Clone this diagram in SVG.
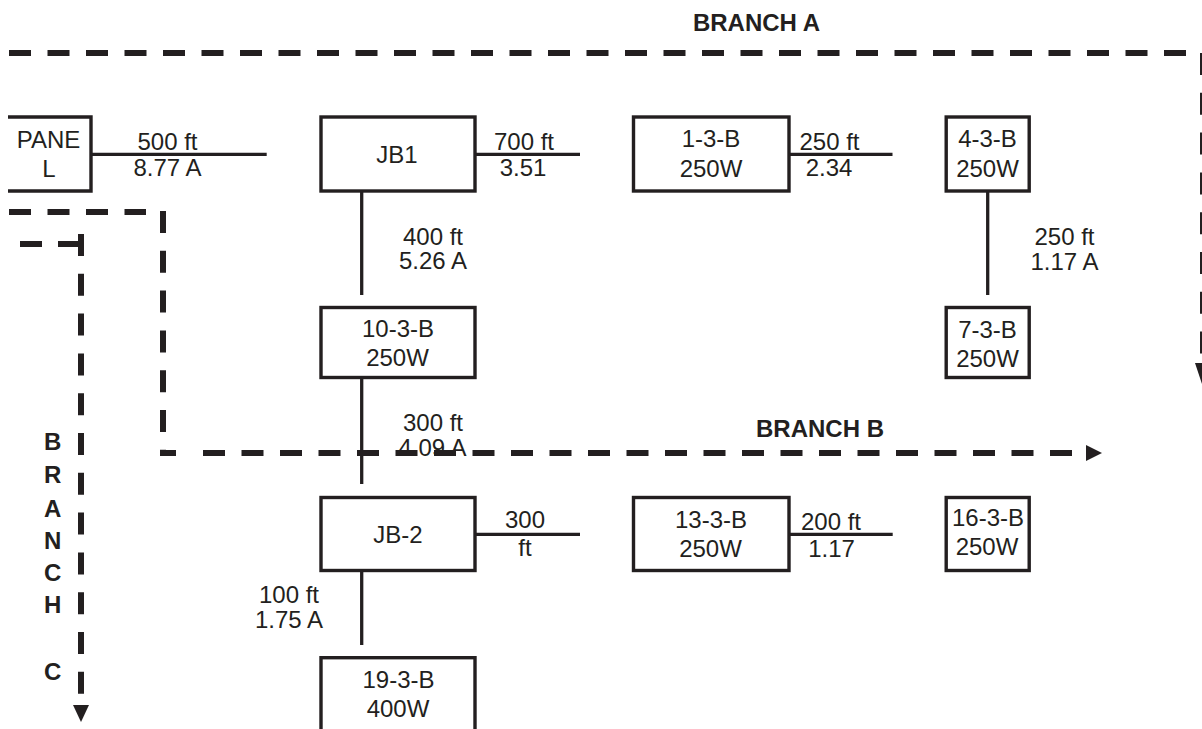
<svg xmlns="http://www.w3.org/2000/svg" width="1202" height="729" viewBox="0 0 1202 729">
<style>
  .box { fill: #ffffff; stroke: #231f20; stroke-width: 3.4; }
  .wire { fill: none; stroke: #231f20; stroke-width: 3.3; }
  .dash { fill: none; stroke: #231f20; stroke-width: 6; stroke-linejoin: miter; }
  .dh { stroke-dasharray: 22 16.5; }
  .dv { stroke-dasharray: 22 17.8; }
  .arrow { fill: #231f20; stroke: none; }
  text { font-family: "Liberation Sans", Arial, Helvetica, sans-serif; font-size: 24px; fill: #231f20; text-anchor: middle; }
  .bold { font-weight: bold; }
</style>
<rect width="1202" height="729" fill="#ffffff"/>

<g id="nodes">
  <g id="panel">
    <path class="box" d="M8,117 H91 V191 H8"/>
    <text x="48.5" y="148">PANE</text>
    <text x="49" y="177">L</text>
  </g>
  <g id="jb1">
    <rect class="box" x="321" y="117" width="154" height="74"/>
    <text x="397" y="163">JB1</text>
  </g>
  <g id="n1-3-b">
    <rect class="box" x="633.5" y="117" width="155.5" height="74"/>
    <text x="711" y="147">1-3-B</text>
    <text x="711" y="177">250W</text>
  </g>
  <g id="n4-3-b">
    <rect class="box" x="946.2" y="117" width="83" height="74"/>
    <text x="987.5" y="147">4-3-B</text>
    <text x="987.5" y="177">250W</text>
  </g>
  <g id="n10-3-b">
    <rect class="box" x="321" y="307.5" width="154" height="70"/>
    <text x="398" y="337">10-3-B</text>
    <text x="397.5" y="366">250W</text>
  </g>
  <g id="n7-3-b">
    <rect class="box" x="946.2" y="307.5" width="83" height="70"/>
    <text x="987.5" y="338">7-3-B</text>
    <text x="987.5" y="367">250W</text>
  </g>
  <g id="jb-2">
    <rect class="box" x="321" y="497.5" width="154" height="73"/>
    <text x="398" y="543">JB-2</text>
  </g>
  <g id="n13-3-b">
    <rect class="box" x="633.5" y="497.5" width="155.5" height="73"/>
    <text x="711" y="528">13-3-B</text>
    <text x="710.5" y="557">250W</text>
  </g>
  <g id="n16-3-b">
    <rect class="box" x="946.2" y="497.5" width="83" height="73"/>
    <text x="988" y="526">16-3-B</text>
    <text x="987" y="555">250W</text>
  </g>
  <g id="n19-3-b">
    <rect class="box" x="321" y="657.7" width="154" height="100"/>
    <text x="398.5" y="688">19-3-B</text>
    <text x="398" y="717">400W</text>
  </g>
</g>

<g id="connectors">
  <path class="wire" d="M92,154.3 H266.7"/>
  <path class="wire" d="M476,154.3 H580"/>
  <path class="wire" d="M790,154.3 H892.5"/>
  <path class="wire" d="M361.7,192 V295"/>
  <path class="wire" d="M987.7,192 V295"/>
  <path class="wire" d="M361.7,379 V484"/>
  <path class="wire" d="M476,534.3 H580"/>
  <path class="wire" d="M790,534.3 H892.7"/>
  <path class="wire" d="M361.7,572 V645"/>

  <text x="167.5" y="150">500 ft</text>
  <text x="167.5" y="176">8.77 A</text>
  <text x="524" y="150">700 ft</text>
  <text x="523" y="176">3.51</text>
  <text x="829.5" y="150">250 ft</text>
  <text x="829" y="176">2.34</text>
  <text x="433" y="245">400 ft</text>
  <text x="433" y="269">5.26 A</text>
  <text x="1064.5" y="245">250 ft</text>
  <text x="1064.5" y="270">1.17 A</text>
  <text x="433" y="431">300 ft</text>
  <text x="432.5" y="456">4.09 A</text>
  <text x="525" y="528">300</text>
  <text x="525" y="556">ft</text>
  <text x="831" y="530">200 ft</text>
  <text x="831.5" y="557">1.17</text>
  <text x="289" y="603">100 ft</text>
  <text x="289" y="628">1.75 A</text>
</g>

<g id="branches">
  <!-- Branch A -->
  <path class="dash dh" d="M9,53 H1190"/>
  <path class="dash dv" d="M1203,53 V360"/>
  <polygon class="arrow" points="1195,363 1211,363 1203,387"/>
  <text class="bold" x="756.5" y="30.5">BRANCH A</text>

  <!-- Branch B -->
  <path class="dash dh" d="M9,212 H146"/>
  <path class="dash dv" d="M163,211 V453 H176"/>
  <path class="dash dh" d="M203,453 H1086"/>
  <polygon class="arrow" points="1086,445 1102,453 1086,461"/>
  <text class="bold" x="820" y="436.7">BRANCH B</text>

  <!-- Branch C -->
  <path class="dash" d="M20,244 H42 M58,244 H84"/>
  <path class="dash dv" d="M81,234 V700"/>
  <polygon class="arrow" points="73,705 89,705 81,722"/>
  <text class="bold" x="52.6" y="450">B</text>
  <text class="bold" x="52.6" y="483">R</text>
  <text class="bold" x="52.6" y="516.5">A</text>
  <text class="bold" x="52.6" y="548.5">N</text>
  <text class="bold" x="52.6" y="580.5">C</text>
  <text class="bold" x="52.6" y="613">H</text>
  <text class="bold" x="52.6" y="680">C</text>
</g>
</svg>
